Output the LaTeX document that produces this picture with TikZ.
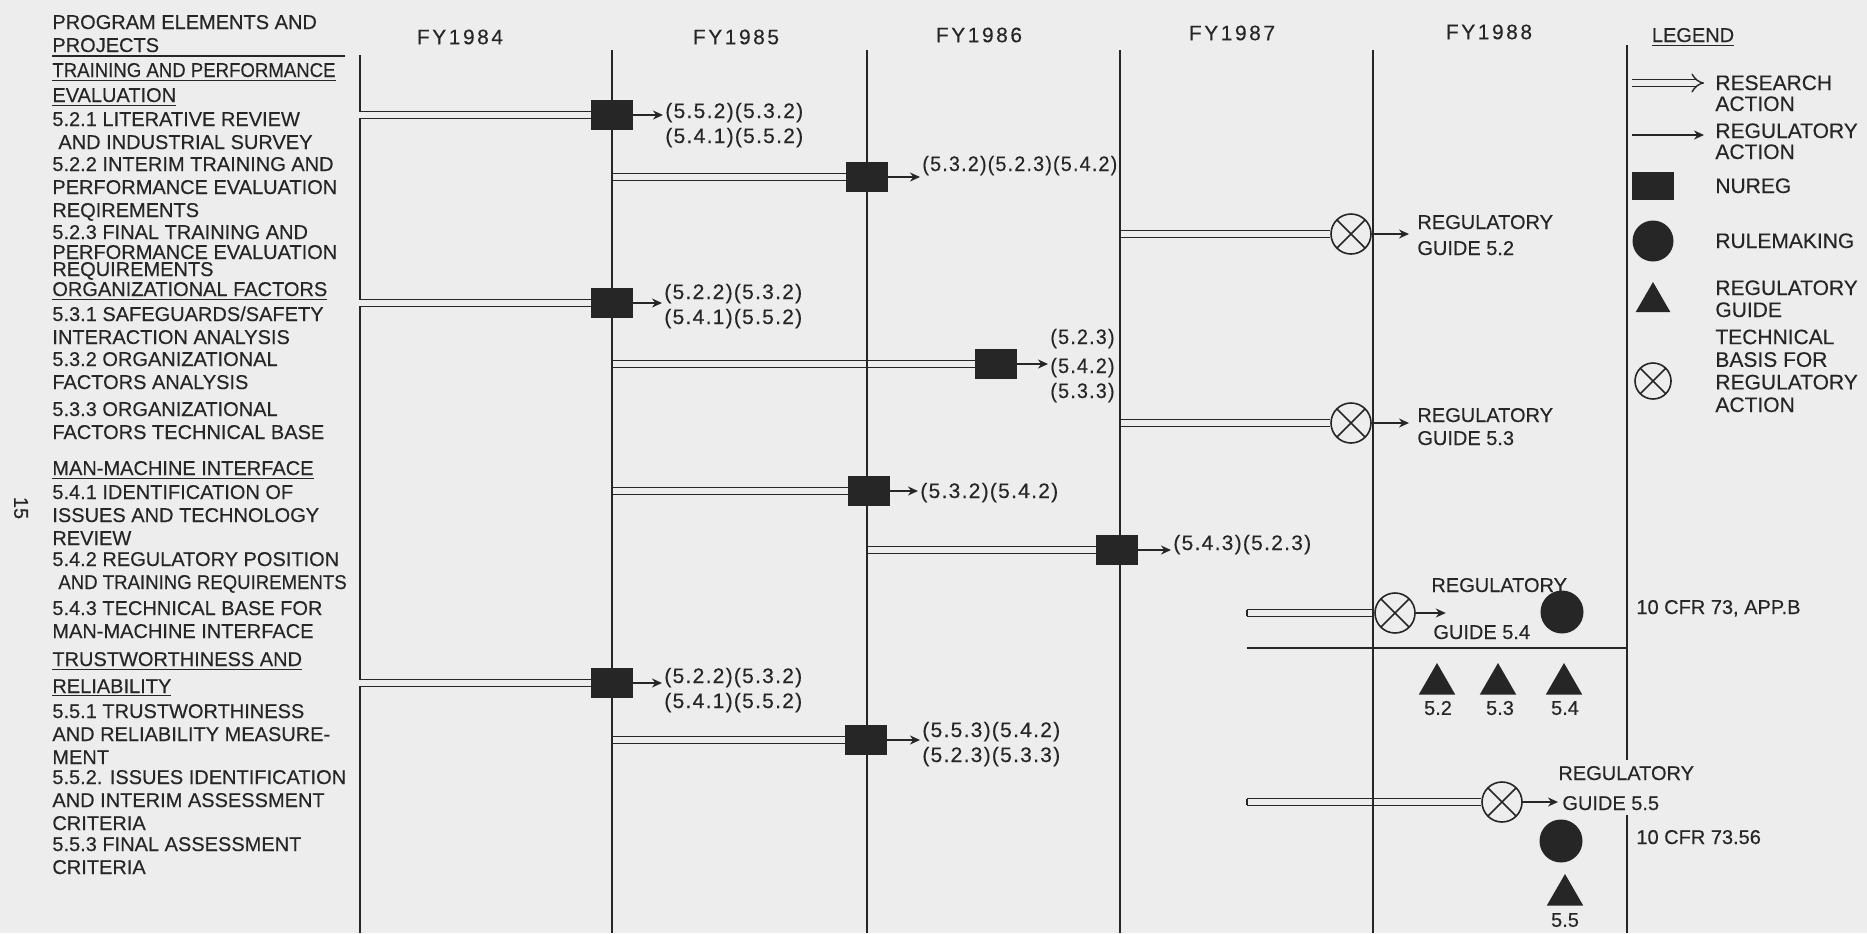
\documentclass[tikz,border=0pt]{standalone}
\usepackage{fontspec}
\setmainfont{Liberation Sans}[FakeBold=0.3]
\newfontfamily\yrfont{Liberation Sans}[LetterSpace=12,FakeBold=0.3]
\newfontfamily\xrfont{Liberation Sans}[LetterSpace=6,FakeBold=0.3]
\usepackage{graphicx}
\usepackage{tikz}
\usetikzlibrary{arrows.meta,shapes.geometric,backgrounds}
\definecolor{cInk}{HTML}{262626}
\definecolor{cPaper}{HTML}{EDEDED}
\tikzset{
  yrline/.style={draw=cInk,line width=0.8pt},
  rsch/.style  ={draw=cInk,double=cPaper,double distance=2.6pt,line width=0.7pt},
  rgl/.style   ={-{Stealth[length=5pt,width=4.5pt]},draw=cInk,line width=0.8pt},
  nrg/.style   ={fill=cInk,minimum width=21pt,minimum height=15pt,inner sep=0pt},
  rmk/.style   ={circle,fill=cInk,minimum size=21.5pt,inner sep=0pt},
  rgd/.style   ={regular polygon,regular polygon sides=3,fill=cInk,
                 minimum size=21pt,inner sep=0pt},
  tb/.style    ={circle,draw=cInk,line width=0.8pt,minimum size=20pt,inner sep=0pt,
                 path picture={\draw[cInk,line width=0.8pt]
                   (path picture bounding box.north west) -- (path picture bounding box.south east)
                   (path picture bounding box.north east) -- (path picture bounding box.south west);}},
  % multi-line nodes sit on the baseline of their last line
  itm/.style   ={anchor=base west,align=left,inner sep=0pt,text=cInk,
                 font=\fontsize{10}{11.5}\selectfont},
  xr/.style    ={anchor=base west,align=left,inner sep=1pt,text=cInk,
                 font=\xrfont\fontsize{10.5}{12.5}\selectfont},
  yr/.style    ={inner sep=0pt,text=cInk,font=\yrfont\fontsize{10.5}{12}\selectfont},
  lgd/.style   ={anchor=base west,align=left,inner sep=0pt,text=cInk,
                 font=\fontsize{10.5}{10.5}\selectfont},
}
\newcommand{\sq}[1]{\scalebox{0.93}[1]{#1}}
\newcommand{\sqx}[1]{\scalebox{0.94}[1]{#1}}

\begin{document}
\begin{tikzpicture}[x=0.5pt,y=-0.5pt]
\begin{scope}[on background layer]
  \fill[cPaper] (0,0) rectangle (1867,933);
\end{scope}
\path[use as bounding box] (0,0) rectangle (1867,933);

% ---- year columns --------------------------------------------------------
\coordinate (sp) at (360,0);
\coordinate (b1) at (612,0);
\coordinate (b2) at (867,0);
\coordinate (b3) at (1120,0);
\coordinate (b4) at (1373,0);
\coordinate (b5) at (1627,0);
\coordinate (s0) at (1247,0);
\node[yr] (y84) at (460,37) {FY1984};
\node[yr] (y85) at (736,37) {FY1985};
\node[yr] (y86) at (979,35) {FY1986};
\node[yr] (y87) at (1232,33) {FY1987};
\node[yr] (y88) at (1489,32) {FY1988};

% ---- program elements ----------------------------------------------------
\node[itm] (hd) at (52,52) {PROGRAM ELEMENTS AND\\PROJECTS};
\draw[yrline] (52,56) -- (345,56);
\node[itm] (s1) at (52,102) {\underline{\sq{TRAINING AND PERFORMANCE}}\\[1pt]\underline{EVALUATION}};
\node[itm] (p521) at (52,149) {5.2.1 LITERATIVE REVIEW\\\hspace{3pt}AND INDUSTRIAL SURVEY};
\node[itm] (p522) at (52,217) {5.2.2 INTERIM TRAINING AND\\PERFORMANCE EVALUATION\\REQIREMENTS};
\node[itm] (p523) at (52,276) {5.2.3 FINAL TRAINING AND\\[-1.5pt]PERFORMANCE EVALUATION\\[-3pt]REQUIREMENTS};
\node[itm] (s2) at (52,296) {\underline{ORGANIZATIONAL FACTORS}};
\node[itm] (p531) at (52,344) {5.3.1 SAFEGUARDS/SAFETY\\INTERACTION ANALYSIS};
\node[itm] (p532) at (52,389) {5.3.2 ORGANIZATIONAL\\FACTORS ANALYSIS};
\node[itm] (p533) at (52,439) {5.3.3 ORGANIZATIONAL\\FACTORS TECHNICAL BASE};
\node[itm] (s3) at (52,475) {\underline{MAN-MACHINE INTERFACE}};
\node[itm] (p541) at (52,545) {5.4.1 IDENTIFICATION OF\\ISSUES AND TECHNOLOGY\\REVIEW};
\node[itm] (p542) at (52,589) {5.4.2 REGULATORY POSITION\\\hspace{3pt}\sq{AND TRAINING REQUIREMENTS}};
\node[itm] (p543) at (52,638) {5.4.3 TECHNICAL BASE FOR\\MAN-MACHINE INTERFACE};
\node[itm] (s4) at (52,693) {\underline{TRUSTWORTHINESS AND}\\[2pt]\underline{RELIABILITY}};
\node[itm] (p551) at (52,764) {5.5.1 TRUSTWORTHINESS\\AND RELIABILITY MEASURE-\\MENT};
\node[itm] (p552) at (52,830) {5.5.2. ISSUES IDENTIFICATION\\AND INTERIM ASSESSMENT\\CRITERIA};
\node[itm] (p553) at (52,874) {5.5.3 FINAL ASSESSMENT\\CRITERIA};
\node[rotate=-90,inner sep=0pt,text=cInk,font=\fontsize{10}{12}\selectfont] (pg) at (21,508) {15};

% ---- products ------------------------------------------------------------
\node[nrg] (n521) at (612,115) {};
\node[nrg] (n522) at (867,177) {};
\node[nrg] (n531) at (612,303) {};
\node[nrg] (n532) at (996,364) {};
\node[nrg] (n541) at (869,491) {};
\node[nrg] (n542) at (1117,550) {};
\node[nrg] (n551) at (612,683) {};
\node[nrg] (n552) at (866,740) {};
\node[tb] (t523) at (1351,234) {};
\node[tb] (t533) at (1351,423) {};
\node[tb] (t543) at (1395,613) {};
\node[tb] (t553) at (1502,802) {};
\node[rmk] (c543) at (1562,612) {};
\node[rmk] (c553) at (1561,841) {};
\node[rgd] (g52) at (1437,684) {};
\node[rgd] (g53) at (1498,684) {};
\node[rgd] (g54) at (1564,684) {};
\node[rgd] (g55) at (1565,895) {};

% ---- cross references ----------------------------------------------------
\node[xr] (x521) at (663,143) {(5.5.2)(5.3.2)\\(5.4.1)(5.5.2)};
\node[xr] (x522) at (920,171) {\sqx{(5.3.2)(5.2.3)(5.4.2)}};
\node[xr] (x531) at (662,324) {(5.2.2)(5.3.2)\\(5.4.1)(5.5.2)};
\node[xr] (x532) at (1048,398) {\sqx{(5.2.3)}\\[2pt]\sqx{(5.4.2)}\\\sqx{(5.3.3)}};
\node[xr] (x541) at (918,498) {(5.3.2)(5.4.2)};
\node[xr] (x542) at (1171,550) {(5.4.3)(5.2.3)};
\node[xr] (x551) at (662,708) {(5.2.2)(5.3.2)\\(5.4.1)(5.5.2)};
\node[xr] (x552) at (920,762) {(5.5.3)(5.4.2)\\(5.2.3)(5.3.3)};

% ---- regulatory products -------------------------------------------------
\node[itm] (gd52) at (1417,255) {REGULATORY\\[1.5pt]GUIDE 5.2};
\node[itm] (gd53) at (1417,445) {REGULATORY\\GUIDE 5.3};
\node[itm] (gd54) at (1431,639) {REGULATORY\\[12pt]\hspace{1pt}GUIDE 5.4};
\node[itm] (gd55) at (1558,810) {REGULATORY\\[3.5pt]\hspace{2pt}GUIDE 5.5};
\node[itm] (cfr1) at (1636,614) {10 CFR 73, APP.B};
\node[itm] (cfr2) at (1636,844) {10 CFR 73.56};
\node[itm,anchor=center] (l52) at (1438,708) {5.2};
\node[itm,anchor=center] (l53) at (1500,708) {5.3};
\node[itm,anchor=center] (l54) at (1565,708) {5.4};
\node[itm,anchor=center] (l55) at (1565,920) {5.5};
\coordinate (a543) at ([xshift=15pt]t543.east);

% ---- legend --------------------------------------------------------------
\node[lgd,font=\fontsize{10}{10}\selectfont,anchor=base] (lg) at (1693,42) {\underline{LEGEND}};
\draw[rsch,-{Implies}] (1632,83) -- (1704,83);
\draw[rgl] (1632,135) -- (1704,135);
\node[nrg,minimum width=21pt,minimum height=14pt] (lnrg) at (1653,186) {};
\node[rmk,minimum size=20.5pt] (lrmk) at (1653,241) {};
\node[rgd,minimum size=20pt] (lrgd) at (1653,302) {};
\node[tb,minimum size=18pt] (ltb) at (1653,381) {};
\node[lgd] (lg1) at (1715,111) {RESEARCH\\ACTION};
\node[lgd] (lg2) at (1715,159) {REGULATORY\\ACTION};
\node[lgd] (lg3) at (1715,193) {NUREG};
\node[lgd] (lg4) at (1715,248) {RULEMAKING};
\node[lgd] (lg5) at (1715,317) {REGULATORY\\[0.5pt]GUIDE};
\node[lgd] (lg6) at (1715,412) {TECHNICAL\\[0.8pt]BASIS FOR\\[0.8pt]REGULATORY\\[0.8pt]ACTION};

% ---- research actions and grid -------------------------------------------
\begin{scope}[on background layer]
  \foreach \n/\c in {n521/sp,n522/b1,t523/b3,n531/sp,n532/b1,t533/b3,
                     n541/b1,n542/b2,t543/s0,n551/sp,n552/b1,t553/s0}
    {\draw[rsch] (\n.west -| \c) -- (\n.west);}
  \foreach \n in {t543,t553}
    {\draw[yrline,line width=0.7pt] (\n.west -| s0) ++(0,-3.3) -- ++(0,6.6);}
  \foreach \c in {b1,b2,b3,b4}{\draw[yrline] (\c |- 0,50) -- (\c |- 0,933);}
  \draw[yrline] (360,55) -- (360,111.7) (360,118.3) -- (360,299.7)
                (360,306.3) -- (360,679.7) (360,686.3) -- (360,933);
  \draw[yrline] (b5 |- 0,45) -- (b5 |- 0,760) (b5 |- 0,815) -- (b5 |- 0,933);
  \draw[yrline] (s0 |- 0,648) -- (b5 |- 0,648);
\end{scope}

% ---- regulatory actions --------------------------------------------------
\foreach \n/\l in {n521/x521,n522/x522,n531/x531,n532/x532,
                   n541/x541,n542/x542,n551/x551,n552/x552}
  {\draw[rgl] (\n.east) -- (\n.east -| \l.west);}
\foreach \n/\l in {t523/gd52,t533/gd53}
  {\draw[rgl,shorten >=4pt] (\n.east) -- (\n.east -| \l.west);}
\draw[rgl] (t543.east) -- (a543);
\draw[rgl] (t553.east) -- (t553.east -| gd55.west);
\end{tikzpicture}
\end{document}
